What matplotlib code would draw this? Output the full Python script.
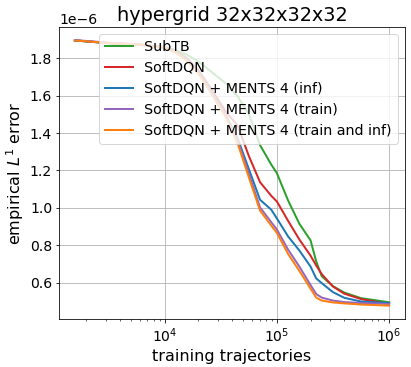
import numpy as np
import matplotlib
matplotlib.use("Agg")
import matplotlib.pyplot as plt

# x positions (log10 of training trajectories)
log_x = [3.2, 3.5, 3.8, 4.0, 4.1, 4.2, 4.3, 4.4, 4.55, 4.65, 4.75, 4.85, 4.95, 5.0,
         5.1, 5.2, 5.3, 5.35, 5.4, 5.5, 5.6, 5.75, 6.0]

subtb = [1.895, 1.880, 1.870, 1.860, 1.843, 1.818, 1.782, 1.735, 1.663, 1.596, 1.501, 1.335,
         1.231, 1.185, 1.039, 0.915, 0.826, 0.714, 0.634, 0.581, 0.547, 0.517, 0.495]
softdqn = [1.895, 1.881, 1.871, 1.857, 1.837, 1.800, 1.736, 1.650, 1.510, 1.441, 1.277, 1.137,
           1.064, 1.034, 0.930, 0.831, 0.744, 0.692, 0.645, 0.579, 0.541, 0.512, 0.486]
ments_inf = [1.895, 1.881, 1.871, 1.856, 1.834, 1.795, 1.728, 1.640, 1.490, 1.372, 1.207, 1.043,
             0.990, 0.943, 0.847, 0.772, 0.686, 0.623, 0.597, 0.549, 0.519, 0.499, 0.491]
ments_train = [1.897, 1.883, 1.873, 1.858, 1.832, 1.790, 1.722, 1.632, 1.485, 1.361, 1.182, 1.002,
               0.923, 0.884, 0.776, 0.686, 0.587, 0.539, 0.520, 0.504, 0.496, 0.491, 0.486]
ments_both = [1.895, 1.881, 1.871, 1.856, 1.830, 1.786, 1.717, 1.627, 1.478, 1.345, 1.163, 0.985,
              0.905, 0.866, 0.753, 0.663, 0.568, 0.520, 0.504, 0.494, 0.489, 0.483, 0.477]

labels = ["SubTB", "SoftDQN", "SoftDQN + MENTS 4 (inf)",
          "SoftDQN + MENTS 4 (train)", "SoftDQN + MENTS 4 (train and inf)"]
colors = ["tab:green", "tab:red", "tab:blue", "tab:purple", "tab:orange"]
series = [subtb, softdqn, ments_inf, ments_train, ments_both]

x = 10 ** np.array(log_x)

DPI = 72
fig = plt.figure(figsize=(411 / DPI, 367 / DPI), dpi=DPI)
ax = fig.add_axes([0.144, 0.131, 0.841, 0.796])
for s, lab, c in zip(series, labels, colors):
    ax.plot(x, np.array(s) * 1e-6, color=c, lw=2, label=lab)
ax.set_xscale("log")
ax.grid(True, which="major")
ax.tick_params(labelsize=14)
ax.yaxis.get_offset_text().set_fontsize(14)
ax.set_xlabel("training trajectories", fontsize=16)
ax.set_ylabel("empirical $L^1$ error", fontsize=16)
ax.set_title("hypergrid 32x32x32x32", fontsize=19.2)
ax.legend(loc="upper right", fontsize=14.2)
fig.savefig("out.png", dpi=DPI)
